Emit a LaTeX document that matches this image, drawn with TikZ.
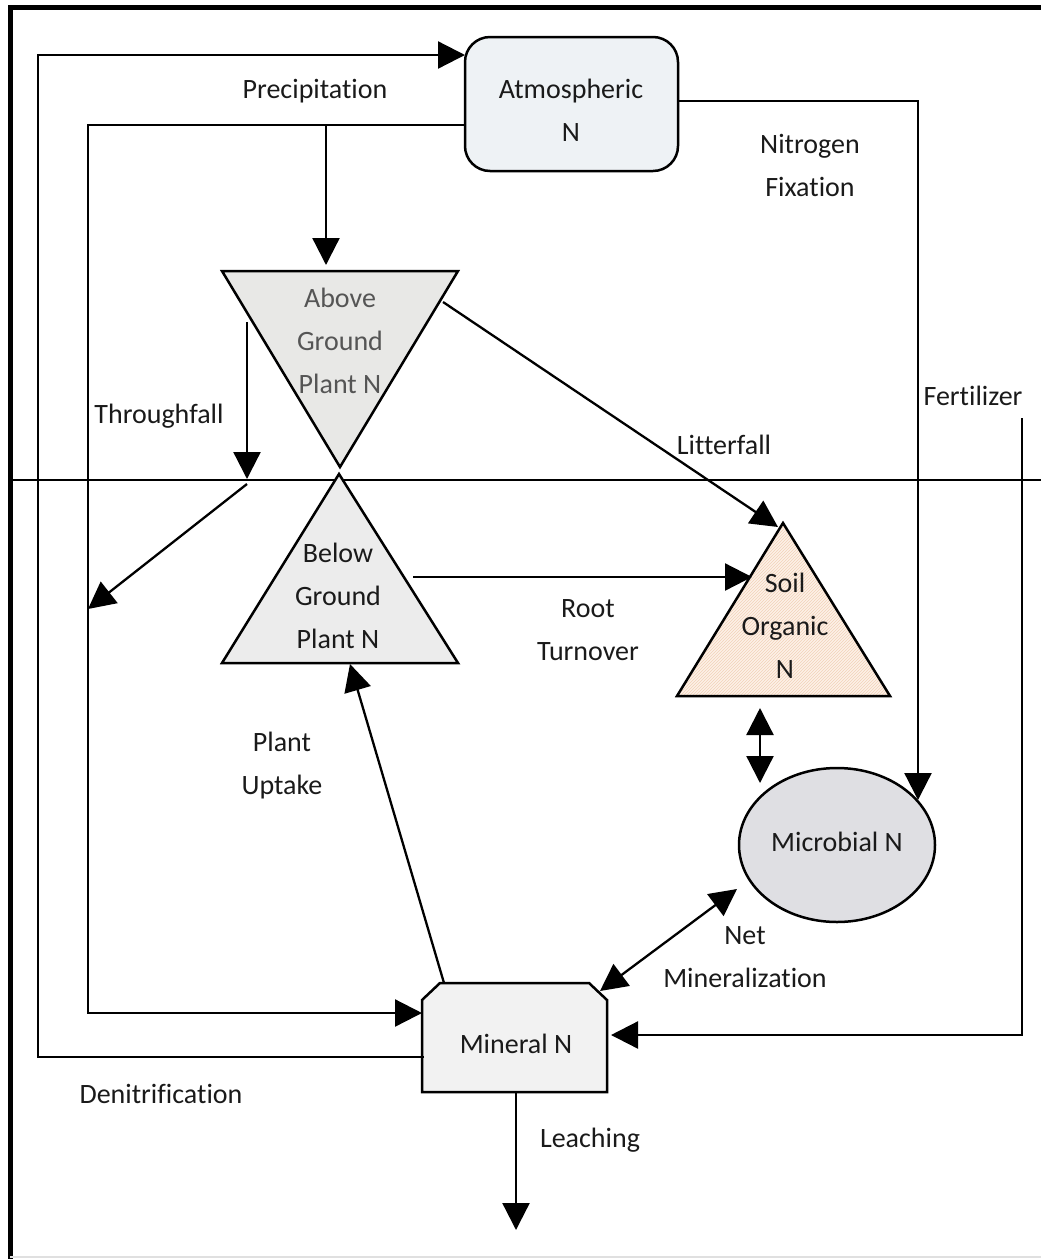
\documentclass[tikz,border=0pt]{standalone}
\usepackage{fontspec}
\setmainfont{Carlito}[Ligatures=CommonOff]
\usetikzlibrary{arrows.meta,shapes.geometric,patterns}
\definecolor{atmfill}{HTML}{EEF2F5}
\definecolor{agfill}{HTML}{E8E8E6}
\definecolor{bgfill}{HTML}{ECECEC}
\definecolor{micfill}{HTML}{DFDFE3}
\definecolor{minfill}{HTML}{F2F2F2}
\definecolor{soilfill}{HTML}{FDF1E7}
\definecolor{hatch}{HTML}{F2D2B8}
\definecolor{txt}{HTML}{1A1A1A}
\definecolor{txtgray}{HTML}{555555}
\begin{document}
\begin{tikzpicture}[x=1pt,y=-1pt,
  lbl/.style={font=\fontsize{28}{43}\selectfont, align=center, inner sep=0pt, text=txt},
  tip/.style={-{Triangle[length=27pt,width=27pt]}},
  conn/.style={line width=2.3pt, line join=miter},
  arr/.style={conn, tip},
  darr/.style={conn, {Triangle[length=27pt,width=27pt]}-{Triangle[length=27pt,width=27pt]}},
  outline/.style={line width=2.5pt, draw=black, line join=miter}]
\useasboundingbox (0,0) rectangle (1041,1259);
% frame
\draw[line width=5pt] (10,1259) -- (10,7) -- (1041,7);
\draw[line width=1.5pt, black!12] (10,1257) -- (1041,1257);
% ground line
\coordinate (gl1) at (12,480);
\coordinate (gl2) at (1041,480);
\draw[line width=2pt] (gl1) -- (gl2);

% Atmospheric N
\node[outline, rectangle, rounded corners=25pt, fill=atmfill, minimum width=213pt, minimum height=134pt, lbl] (atm) at (571.5,104) {};
\node[lbl] (atmtxt) at (571,110) {Atmospheric\\N};

% Above ground triangle
\draw[outline, fill=agfill] (222,271) -- (458,271) -- (340,467) -- cycle;
\node[lbl, text=txtgray] (ag) at (340,341) {Above\\Ground\\Plant N};

% Below ground triangle
\draw[outline, fill=bgfill] (339,474) -- (458,663) -- (222,663) -- cycle;
\node[lbl] (bg) at (338,596) {Below\\Ground\\Plant N};

% Soil organic triangle
\fill[soilfill] (783,523) -- (890,696) -- (677,696) -- cycle;
\fill[pattern=north east lines, pattern color=hatch] (783,523) -- (890,696) -- (677,696) -- cycle;
\draw[outline] (783,523) -- (890,696) -- (677,696) -- cycle;
\node[lbl] (so) at (785,626) {Soil\\Organic\\N};

% Microbial N
\node[outline, ellipse, fill=micfill, minimum width=196pt, minimum height=154pt, inner sep=0pt] (mic) at (837,845) {};
\node[lbl] (mictxt) at (837,842) {Microbial N};

% Mineral N
\draw[outline, fill=minfill] (422,1000) -- (440,983) -- (589,983) -- (607,1000) -- (607,1092) -- (422,1092) -- cycle;
\node[lbl] (min) at (516,1044) {Mineral N};

% connector coordinates
\coordinate (minW2) at (424,1057);
\coordinate (d1) at (38,1057);
\coordinate (d2) at (38,55);
\coordinate (atmW1) at (465,55);

\coordinate (atmW2) at (465,125);
\coordinate (p1) at (88,125);
\coordinate (p2) at (88,1013);
\coordinate (minW1) at (422,1013);
\coordinate (pj) at (326,125);
\coordinate (agT) at (326,265);

\coordinate (atmE) at (678,101);
\coordinate (f1) at (918,101);
\coordinate (micT) at (918,800);

\coordinate (tf1) at (247,322);
\coordinate (tf2) at (247,479);
\coordinate (tf3) at (247,484);
\coordinate (tf4) at (88,609);

\coordinate (agR) at (443,302);
\coordinate (soA) at (778,527);

\coordinate (bgR) at (413,577);
\coordinate (soL) at (752,577);

\coordinate (soB) at (760,708);
\coordinate (micN) at (760,783);

\coordinate (minNE) at (600,991);
\coordinate (micSW) at (737,889);

\coordinate (minN) at (444,983);
\coordinate (bgB) at (350,664);

\coordinate (fe1) at (1022,418);
\coordinate (fe2) at (1022,1035);
\coordinate (minE) at (611,1035);

\coordinate (minS) at (516,1092);
\coordinate (leach) at (516,1230);

% connectors
\draw[arr] (minW2) -- (d1) -- (d2) -- (atmW1);
\draw[arr] (atmW2) -- (p1) -- (p2) -- (minW1);
\draw[arr] (pj) -- (agT);
\draw[arr] (atmE) -- (f1) -- (micT);
\draw[arr] (tf1) -- (tf2);
\draw[arr] (tf3) -- (tf4);
\draw[arr] (agR) -- (soA);
\draw[arr] (bgR) -- (soL);
\draw[darr] (soB) -- (micN);
\draw[darr] (minNE) -- (micSW);
\draw[arr] (minN) -- (bgB);
\draw[arr] (fe1) -- (fe2) -- (minE);
\draw[arr] (minS) -- (leach);

% labels
\node[lbl] (lprec) at (315,91) {Precipitation};
\node[lbl] (lfix) at (810,165) {Nitrogen\\Fixation};
\node[lbl] (lfert) at (973,396) {Fertilizer};
\node[lbl] (lthr) at (159,416) {Throughfall};
\node[lbl] (llit) at (724,445) {Litterfall};
\node[lbl] (lroot) at (588,630) {Root\\Turnover};
\node[lbl] (lupt) at (282,766) {Plant\\Uptake};
\node[lbl] (lnet) at (745,957) {Net\\Mineralization};
\node[lbl] (lden) at (161,1094) {Denitrification};
\node[lbl] (lleach) at (590,1140) {Leaching};
\end{tikzpicture}
\end{document}
